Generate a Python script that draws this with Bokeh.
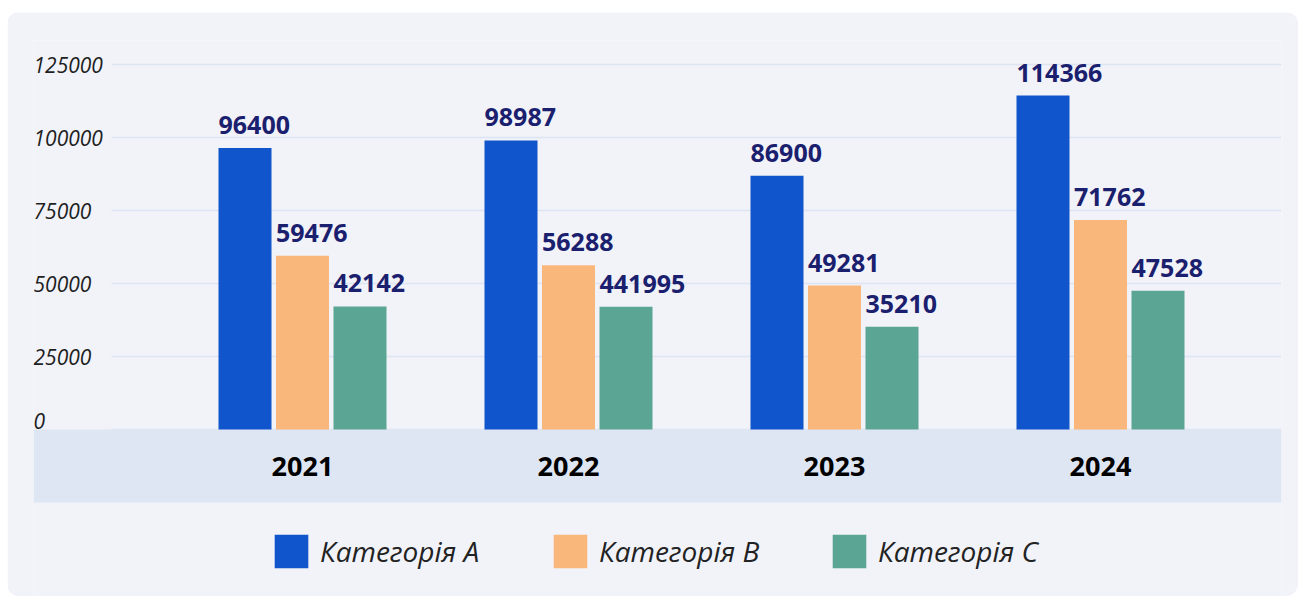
from bokeh.plotting import figure
from bokeh.models import ColumnDataSource, Range1d, Legend, LegendItem
from bokeh.core.properties import value
from bokeh.embed import file_html
from bokeh.resources import INLINE

# ---- data ----
years = ["2021", "2022", "2023", "2024"]
series_names = ["Категорія A", "Категорія B", "Категорія C"]
cat_a = [96400, 98987, 86900, 114366]
cat_b = [59476, 56288, 49281, 71762]
cat_c = [42142, 41995, 35210, 47528]
labels_a = ["96400", "98987", "86900", "114366"]
labels_b = ["59476", "56288", "49281", "71762"]
labels_c = ["42142", "441995", "35210", "47528"]
y_ticks = [0, 25000, 50000, 75000, 100000, 125000]
y_tick_labels = ["0", "25000", "50000", "75000", "100000", "125000"]

# ---- style ----
CARD = "#f1f3f9"
BAND = "#dfe6f3"
GRID = "#dde4f2"
COLORS = ["#1155cc", "#f9b77c", "#5ba594"]
LABEL_NAVY = "#1b206e"
FONT_NAME = "Open Sans"
FONT = value(FONT_NAME)

W, H = 1291, 584
FRAME_L, FRAME_R, FRAME_T, FRAME_B = 26, 17, 28, 0
frame_w = W - FRAME_L - FRAME_R
frame_h = H - FRAME_T - FRAME_B
px_per_unit_y = 365 / 125000.0
zero_from_top = 389
y_top = zero_from_top / px_per_unit_y
y_bot = -(frame_h - zero_from_top) / px_per_unit_y
px_per_cat = 266.0
x_start = -269.0 / px_per_cat
x_end = x_start + frame_w / px_per_cat
band_bottom = -73 / px_per_unit_y
grid_left = x_start + 78 / px_per_cat
label_gap = 23 / px_per_unit_y
zero_gap = 9 / px_per_unit_y

bar_w = 53 / px_per_cat
dodge = 57.5 / px_per_cat

p = figure(width=W, height=H, output_backend="svg", toolbar_location=None,
           x_range=Range1d(x_start, x_end), y_range=Range1d(y_bot, y_top),
           min_border=0, min_border_left=FRAME_L, min_border_right=FRAME_R,
           min_border_top=FRAME_T, min_border_bottom=FRAME_B)
p.margin = (12, 0, 0, 7)
p.styles = {"border-radius": "12px", "overflow": "hidden"}
p.background_fill_color = CARD
p.border_fill_color = CARD
p.outline_line_color = None
p.xaxis.visible = False
p.yaxis.visible = False
p.xgrid.visible = False
p.ygrid.visible = False

xs = list(range(len(years)))

# gridlines
gsrc = ColumnDataSource(dict(y=y_ticks, x0=[grid_left] * len(y_ticks), x1=[x_end] * len(y_ticks)))
p.segment(x0="x0", x1="x1", y0="y", y1="y", source=gsrc, line_color=GRID, line_width=1.6)

# x band
p.quad(left=[x_start], right=[x_end], bottom=[band_bottom], top=[0], fill_color=BAND, line_color=None)

# y tick labels
ysrc = ColumnDataSource(dict(x=[x_start] * (len(y_ticks) - 1), y=y_ticks[1:], t=y_tick_labels[1:]))
p.text(x="x", y="y", text="t", source=ysrc, text_font=FONT, text_font_style="italic",
       text_font_size="21px", text_color="#1e1e1e", text_align="left", text_baseline="middle")
p.text(x=[x_start], y=[y_ticks[0] + zero_gap], text=[y_tick_labels[0]], text_font=FONT,
       text_font_style="italic", text_font_size="21px", text_color="#1e1e1e",
       text_align="left", text_baseline="middle")

# year labels
p.text(x=xs, y=[band_bottom / 2] * len(xs), text=years, text_font=FONT, text_font_style="bold",
       text_font_size="27px", text_color="#000000", text_align="center", text_baseline="middle")

# bars
items = []
for i, (vals, labs) in enumerate([(cat_a, labels_a), (cat_b, labels_b), (cat_c, labels_c)]):
    cx = [x + (i - 1) * dodge for x in xs]
    src = ColumnDataSource(dict(x=cx, top=vals, left=[c - bar_w / 2 for c in cx],
                                ly=[v + label_gap for v in vals], lab=labs))
    r = p.vbar(x="x", top="top", bottom=0, width=bar_w, source=src, fill_color=COLORS[i], line_color=None)
    items.append(LegendItem(label=series_names[i], renderers=[r]))
    p.text(x="left", y="ly", text="lab", source=src, text_font=FONT, text_font_style="bold",
           text_font_size="25px", text_color=LABEL_NAVY, text_align="left", text_baseline="middle")

legend = Legend(items=items, orientation="horizontal", location=(237, 24),
                glyph_width=42, glyph_height=42, label_standoff=8, label_width=200,
                spacing=29, padding=0, margin=0,
                label_text_font=FONT_NAME, label_text_font_style="italic", label_text_font_size="28px",
                label_text_color="#222222", background_fill_alpha=0, border_line_color=None)
p.add_layout(legend, "center")

open("out.html", "w").write(file_html(p, INLINE))
